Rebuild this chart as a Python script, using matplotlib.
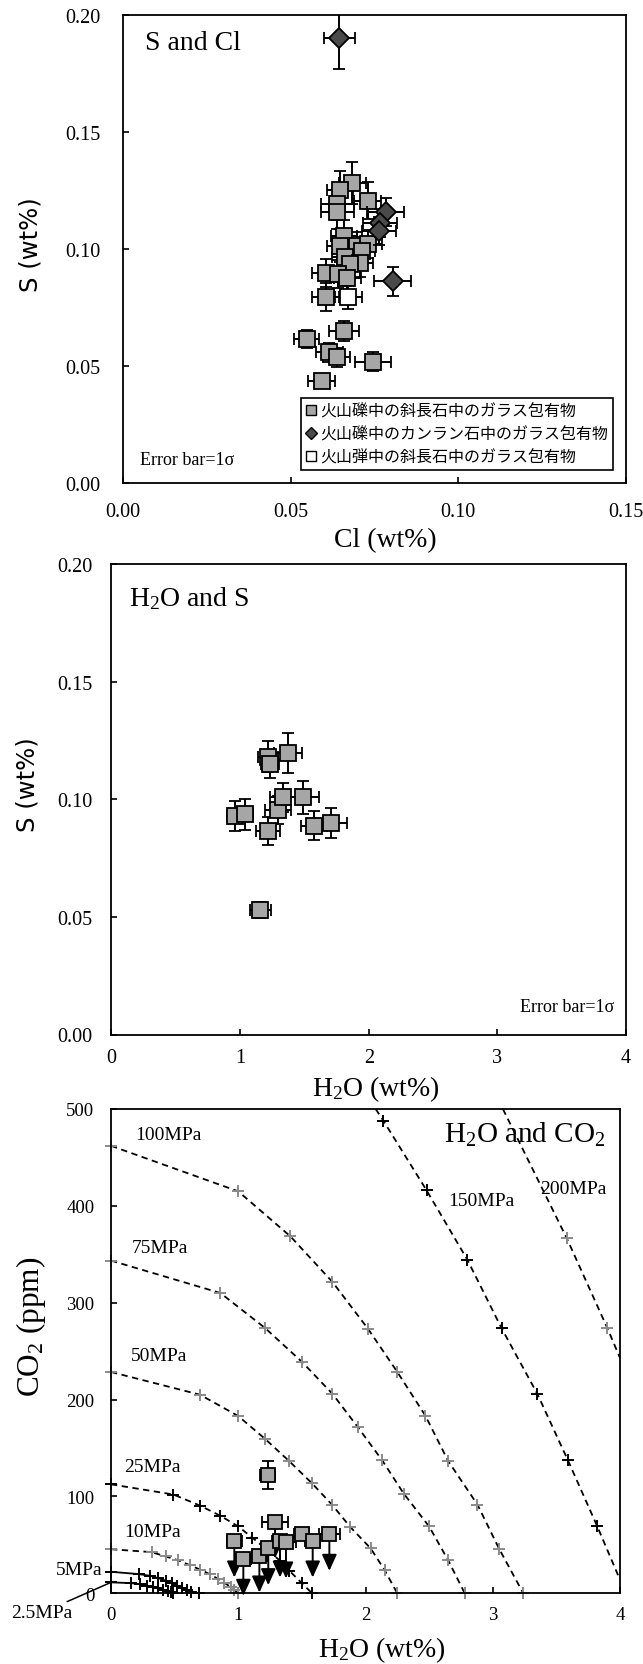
import matplotlib
matplotlib.use("Agg")
import matplotlib.pyplot as plt
from matplotlib.lines import Line2D
from matplotlib.ticker import FormatStrFormatter

plt.rcParams['font.family'] = ['Liberation Serif', 'Noto Sans CJK JP']
plt.rcParams['mathtext.fontset'] = 'custom'
plt.rcParams['mathtext.rm'] = 'Liberation Serif'
plt.rcParams['mathtext.it'] = 'Liberation Serif'

# ---------------------------
# DATA
# ---------------------------

# S and Cl : plagioclase-hosted inclusions in lapilli
plag_cl = [0.0684, 0.0647, 0.0730, 0.0639, 0.0639, 0.0659, 0.0647, 0.0697, 0.0732, 0.0712,
           0.0662, 0.0707, 0.0677, 0.0605, 0.0642, 0.0669, 0.0605, 0.0659, 0.0548, 0.0615,
           0.0637, 0.0745, 0.0593]
plag_s = [0.1280, 0.1252, 0.1205, 0.1191, 0.1156, 0.1053, 0.1013, 0.1013, 0.1020, 0.0989,
          0.0963, 0.0939, 0.0935, 0.0896, 0.0892, 0.0874, 0.0793, 0.0648, 0.0615, 0.0558,
          0.0537, 0.0518, 0.0437]
plag_cl_err = [0.0040, 0.0040, 0.0040, 0.0050, 0.0050, 0.0040, 0.0040, 0.0040, 0.0040, 0.0040,
               0.0040, 0.0040, 0.0040, 0.0040, 0.0040, 0.0040, 0.0040, 0.0045, 0.0037, 0.0040,
               0.0040, 0.0054, 0.0040]
plag_s_err = [0.0090, 0.0080, 0.0080, 0.0070, 0.0070, 0.0070, 0.0070, 0.0060, 0.0060, 0.0060,
              0.0060, 0.0060, 0.0060, 0.0060, 0.0060, 0.0060, 0.0060, 0.0043, 0.0038, 0.0040,
              0.0040, 0.0040, 0.0030]

# olivine-hosted inclusions in lapilli
oliv_cl = [0.0645, 0.0783, 0.0766, 0.0764, 0.0804]
oliv_s = [0.1898, 0.1156, 0.1110, 0.1077, 0.0861]
oliv_cl_err = [0.0046, 0.0055, 0.0050, 0.0050, 0.0056]
oliv_s_err = [0.0130, 0.0060, 0.0060, 0.0060, 0.0063]

# plagioclase-hosted inclusion in volcanic bomb
bomb_cl = [0.0672]
bomb_s = [0.0793]
bomb_cl_err = [0.0040]
bomb_s_err = [0.0050]

legend_labels = ["火山礫中の斜長石中のガラス包有物",
                 "火山礫中のカンラン石中のガラス包有物",
                 "火山弾中の斜長石中のガラス包有物"]

# H2O and S
hs_h2o = [0.961, 1.040, 1.158, 1.215, 1.215, 1.231, 1.294, 1.332, 1.374, 1.490, 1.573, 1.707]
hs_s = [0.0929, 0.0936, 0.0530, 0.1181, 0.0866, 0.1149, 0.0954, 0.1008, 0.1198, 0.1008, 0.0888, 0.0900]
hs_h2o_err = [0.06, 0.06, 0.084, 0.076, 0.095, 0.07, 0.10, 0.10, 0.11, 0.12, 0.10, 0.127]
hs_s_err = [0.0064, 0.0067, 0.0033, 0.0067, 0.0060, 0.0058, 0.0060, 0.0062, 0.0085, 0.0070, 0.0060, 0.0064]

# H2O and CO2
hc_h2o = [0.969, 1.040, 1.166, 1.231, 1.236, 1.289, 1.328, 1.375, 1.499, 1.585, 1.716]
hc_co2 = [54.3, 35.4, 38.8, 122.1, 46.4, 73.9, 54.3, 53.3, 61.2, 54.3, 61.2]
hc_h2o_err = [0.06, 0.06, 0.06, 0.06, 0.06, 0.105, 0.06, 0.08, 0.06, 0.06, 0.085]
hc_co2_err = [0, 0, 0, 14.5, 0, 0, 0, 0, 0, 0, 0]
hc_upper_limit = [True, True, True, False, True, True, True, True, False, True, True]
arrow_len = 38

# isobars (H2O wt%, CO2 ppm)
iso_names = ["2.5MPa", "5MPa", "10MPa", "25MPa", "50MPa", "75MPa", "100MPa", "150MPa", "200MPa"]
iso_h2o = [
    [0, 0.16, 0.23, 0.28, 0.33, 0.37, 0.41, 0.45, 0.47, 0.49],
    [0, 0.22, 0.31, 0.37, 0.43, 0.48, 0.52, 0.56, 0.60, 0.63, 0.69],
    [0, 0.32, 0.43, 0.53, 0.62, 0.70, 0.78, 0.84, 0.89, 0.94, 0.97, 1.00],
    [0, 0.49, 0.70, 0.86, 1.00, 1.11, 1.22, 1.33, 1.40, 1.50, 1.58],
    [0, 0.70, 1.00, 1.21, 1.40, 1.58, 1.74, 1.88, 2.04, 2.15, 2.25],
    [0, 0.86, 1.21, 1.50, 1.74, 1.94, 2.13, 2.30, 2.50, 2.65, 2.78],
    [0, 1.00, 1.41, 1.74, 2.02, 2.25, 2.47, 2.65, 2.88, 3.05, 3.24],
    [2.08, 2.14, 2.48, 2.80, 3.07, 3.35, 3.59, 3.82, 4.00],
    [3.08, 3.58, 3.90, 4.00],
]
iso_co2 = [
    [11.3, 10.5, 9.3, 8.0, 6.3, 5.0, 3.6, 2.2, 1.2, 0.3],
    [22.2, 19.8, 18.0, 15.7, 13.0, 10.2, 7.8, 5.8, 3.4, 1.7, 0],
    [45.5, 42.5, 38.0, 34.0, 29.0, 24.5, 19.5, 15.0, 11.0, 6.5, 3.5, 0],
    [112.5, 102.0, 90.5, 80.0, 69.0, 57.5, 45.5, 33.5, 23.5, 10.5, 0],
    [228.5, 205.0, 183.0, 159.5, 136.5, 113.5, 91.0, 68.5, 46.5, 24.0, 0],
    [343.5, 310.0, 274.0, 239.0, 206.0, 171.5, 137.5, 103.0, 69.0, 34.0, 0],
    [462.0, 415.0, 368.5, 321.5, 273.0, 228.5, 183.5, 136.5, 91.5, 46.0, 0],
    [500.0, 488.0, 416.0, 344.5, 273.5, 206.0, 137.5, 69.5, 14.0],
    [500.0, 367.0, 274.0, 243.0],
]
iso_mark_color = ["black", "black", "#8a8a8a", "black", "#8a8a8a", "#8a8a8a", "#8a8a8a", "black", "#8a8a8a"]
iso_solid = [True, True, False, False, False, False, False, False, False]

# ---------------------------
# LAYOUT
# ---------------------------

W, H = 643, 1665
fig = plt.figure(figsize=(W / 100, H / 100), dpi=100)


def rect(l, t, r, b):
    return [l / W, 1 - b / H, (r - l) / W, (b - t) / H]


def fpos(x, y):
    return x / W, 1 - y / H


GRAY = "#a6a6a6"
DARK = "#4a4a4a"


def style_axes(ax, xpad, ypad, size=14):
    for sp in ax.spines.values():
        sp.set_linewidth(1.3)
    ax.tick_params(direction="in", length=4, width=1.2, labelsize=size)
    ax.tick_params(axis="x", pad=xpad)
    ax.tick_params(axis="y", pad=ypad)


def draw_err(ax, x, y, xe, ye, marker, ms, fc, z=3):
    ax.errorbar(x, y, xerr=xe, yerr=ye, fmt=marker, ms=ms, mfc=fc, mec="black", mew=1.3,
                ecolor="black", elinewidth=1.4, capsize=4, capthick=1.4, zorder=z)


# ---------------------------
# PANEL 1 : S and Cl
# ---------------------------

ax1 = fig.add_axes(rect(123, 15.5, 626, 484))
draw_err(ax1, plag_cl, plag_s, plag_cl_err, plag_s_err, "s", 12, GRAY, 3)
draw_err(ax1, oliv_cl, oliv_s, oliv_cl_err, oliv_s_err, "D", 10.5, DARK, 4)
draw_err(ax1, bomb_cl, bomb_s, bomb_cl_err, bomb_s_err, "s", 12, "white", 5)
ax1.set_xlim(0, 0.15)
ax1.set_ylim(0, 0.20)
ax1.set_xticks([0, 0.05, 0.10, 0.15])
ax1.set_yticks([0, 0.05, 0.10, 0.15, 0.20])
ax1.xaxis.set_major_formatter(FormatStrFormatter("%.2f"))
ax1.yaxis.set_major_formatter(FormatStrFormatter("%.2f"))
style_axes(ax1, 14, 16, size=14.5)
ax1.text(0.0066, 0.188, "S and Cl", fontsize=20, va="center", ha="left")
ax1.text(0.005, 0.0099, "Error bar=1σ", fontsize=13, va="center", ha="left")

handles = [
    Line2D([], [], ls="none", marker="s", ms=7, mfc=GRAY, mec="black", mew=1),
    Line2D([], [], ls="none", marker="D", ms=6.5, mfc=DARK, mec="black", mew=1),
    Line2D([], [], ls="none", marker="s", ms=7, mfc="white", mec="black", mew=1),
]
ax1.legend(handles, legend_labels, loc="lower right", bbox_to_anchor=(0.974, 0.028),
           borderaxespad=0, fancybox=False, edgecolor="black", framealpha=1,
           handlelength=0.6, handletextpad=0.3, labelspacing=0.35, borderpad=0.3,
           prop={"family": "Noto Sans CJK JP", "size": 11.5}).get_frame().set_linewidth(1.2)

fig.text(*fpos(385, 541), "Cl (wt%)", fontsize=20, ha="center", va="center")
fig.text(*fpos(31, 245), "S (wt%)", fontsize=17.5, ha="center", va="center", rotation=90,
         family=["DejaVu Sans"])

# ---------------------------
# PANEL 2 : H2O and S
# ---------------------------

ax2 = fig.add_axes(rect(111.5, 565, 626, 1035.5))
draw_err(ax2, hs_h2o, hs_s, hs_h2o_err, hs_s_err, "s", 11.5, GRAY, 3)
ax2.set_xlim(0, 4)
ax2.set_ylim(0, 0.20)
ax2.set_xticks([0, 1, 2, 3, 4])
ax2.set_yticks([0, 0.05, 0.10, 0.15, 0.20])
ax2.yaxis.set_major_formatter(FormatStrFormatter("%.2f"))
style_axes(ax2, 10, 14, size=14.5)
ax2.text(0.136, 0.1857, "H$_{2}$O and S", fontsize=20, va="center", ha="left")
ax2.text(3.91, 0.012, "Error bar=1σ", fontsize=13, va="center", ha="right")

fig.text(*fpos(376, 1089), "H$_{2}$O (wt%)", fontsize=20, ha="center", va="center")
fig.text(*fpos(28, 785), "S (wt%)", fontsize=17.5, ha="center", va="center", rotation=90,
         family=["DejaVu Sans"])

# ---------------------------
# PANEL 3 : H2O and CO2
# ---------------------------

ax3 = fig.add_axes(rect(111, 1110, 620, 1594.3))
for name, xs, ys, mc, solid in zip(iso_names, iso_h2o, iso_co2, iso_mark_color, iso_solid):
    if name in ("150MPa", "200MPa"):
        mk = slice(1, -1)
        clip = True
    else:
        mk = None
        clip = False
    line, = ax3.plot(xs, ys, color="black", lw=1.3, ls="-" if solid else "--",
                     marker="+", ms=8, mec=mc, mew=1.4, markevery=mk, clip_on=clip, zorder=2)
    if not solid:
        line.set_dashes((3.5, 2.5))

for x, y, up in zip(hc_h2o, hc_co2, hc_upper_limit):
    if up:
        ax3.annotate("", xy=(x, y - arrow_len), xytext=(x, y),
                     arrowprops=dict(arrowstyle="-|>,head_length=0.55,head_width=0.25",
                                     color="black", lw=1.4, shrinkA=0, shrinkB=0,
                                     mutation_scale=18),
                     zorder=3, annotation_clip=False)
draw_err(ax3, hc_h2o, hc_co2, hc_h2o_err, hc_co2_err, "s", 10.5, GRAY, 4)

ax3.set_xlim(0, 4)
ax3.set_ylim(0, 500)
ax3.set_xticks([0, 1, 2, 3, 4])
ax3.set_yticks([0, 100, 200, 300, 400, 500])
style_axes(ax3, 9, 12, size=13.5)

lab = dict(fontsize=14, va="center", ha="left")
ax3.text(0.19, 474, "100MPa", **lab)
ax3.text(0.16, 357, "75MPa", **lab)
ax3.text(0.16, 246, "50MPa", **lab)
ax3.text(0.10, 130.7, "25MPa", **lab)
ax3.text(0.105, 63.7, "10MPa", **lab)
ax3.text(2.65, 406, "150MPa", **lab)
ax3.text(3.375, 418, "200MPa", **lab)
ax3.text(-0.07, 24.4, "5MPa", fontsize=14, va="center", ha="right", clip_on=False)
ax3.annotate("2.5MPa", xy=(0, 11.3), xytext=(-28, -22), textcoords="offset points",
             fontsize=14, ha="right", va="center",
             arrowprops=dict(arrowstyle="-", color="black", lw=1.1, shrinkA=0, shrinkB=0),
             annotation_clip=False)
ax3.text(3.89, 474, "H$_{2}$O and CO$_{2}$", fontsize=21, va="center", ha="right")

fig.text(*fpos(382, 1650), "H$_{2}$O (wt%)", fontsize=20, ha="center", va="center")
fig.text(*fpos(31, 1327), "CO$_{2}$ (ppm)", fontsize=22.5, ha="center", va="center", rotation=90)

fig.savefig("out.png", dpi=100)
